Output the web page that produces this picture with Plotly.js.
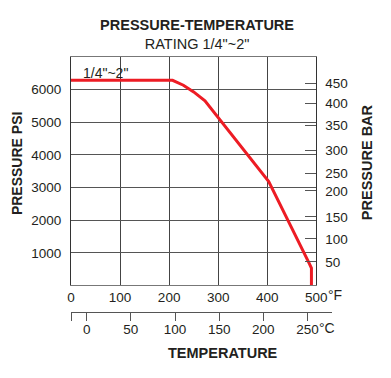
<!DOCTYPE html>
<html><head><meta charset="utf-8">
<script src="https://cdn.plot.ly/plotly-3.0.1.min.js"></script>
<style>html,body{margin:0;padding:0;background:#fff}#c{width:391px;height:378px}</style>
</head><body><div id="c"></div>
<script>
// Rating curve (temperature in °F, pressure in psi)
const tempF = [0, 207, 229, 250, 273, 403, 486, 490, 490];
const pressurePsi = [6285, 6285, 6135, 5930, 5655, 3180, 665, 530, 0];

// Axis ticks
const fTicks = [0, 100, 200, 300, 400, 500];
const fLabels = ["0", "100", "200", "300", "400", "500"];
const psiTicks = [1000, 2000, 3000, 4000, 5000, 6000];
const psiLabels = ["1000", "2000", "3000", "4000", "5000", "6000"];
const cTicks = [-17.78, 0, 50, 100, 150, 200, 250];
const cLabels = ["", "0", "50", "100", "150", "200", "250"];
// bar scale ticks, placed at the psi heights where they appear on the chart
const barTickPsi = [6197, 5576, 4898, 4149, 3436, 2895, 2100, 1428, 725];
const barLabels = ["450", "400", "350", "300", "250", "200", "150", "100", "50"];

const FONT = 'Arial, "Liberation Sans", sans-serif';
const TXT = '#231f20';

const traces = [
  {x: tempF, y: pressurePsi, xaxis: 'x', yaxis: 'y', mode: 'lines',
   line: {color: '#ed1c24', width: 3}, hoverinfo: 'skip', showlegend: false},
  {x: [0], y: [null], xaxis: 'x', yaxis: 'y2', mode: 'lines', hoverinfo: 'skip', showlegend: false},
  {x: [0], y: [null], xaxis: 'x2', yaxis: 'y3', mode: 'lines', hoverinfo: 'skip', showlegend: false}
];

const layout = {
  width: 391, height: 378,
  margin: {l: 71, r: 59.3, t: 56.7, b: 65.7, pad: 0},
  paper_bgcolor: '#fff', plot_bgcolor: 'rgba(0,0,0,0)',
  font: {family: FONT, size: 14, color: TXT},
  showlegend: false,
  title: {text: '<b>PRESSURE-TEMPERATURE</b><br>RATING 1/4"~2"', font: {family: FONT, size: 14.5, color: TXT},
          x: 0.504, xref: 'container', xanchor: 'center', y: 1 - 30/378, yref: 'container', yanchor: 'top'},
  xaxis: {domain: [0, 0.94], range: [0, 500], anchor: 'y', tickvals: fTicks, ticktext: fLabels,
          showgrid: true, gridcolor: '#444', gridwidth: 1, zeroline: false, ticks: '',
          showline: true, linecolor: '#777', linewidth: 1, mirror: true, ticklabelstandoff: -1,
          tickfont: {size: 13.5, color: TXT}, fixedrange: true},
  yaxis: {domain: [0.104, 1], range: [0, 7000], anchor: 'x', tickvals: psiTicks, ticktext: psiLabels,
          showgrid: true, gridcolor: '#555', gridwidth: 1, zeroline: false, ticks: '',
          showline: true, linecolor: '#333', linewidth: 1, mirror: true,
          ticklabelstandoff: 6, tickfont: {size: 13.5, color: TXT}, fixedrange: true},
  yaxis2: {overlaying: 'y', side: 'right', anchor: 'x', range: [0, 7000],
           tickvals: barTickPsi, ticktext: barLabels, ticks: 'inside', ticklen: 11, tickcolor: '#555', tickwidth: 1,
           showgrid: false, zeroline: false, showline: false, ticklabelstandoff: 8,
           tickfont: {size: 13.5, color: TXT}, fixedrange: true},
  yaxis3: {domain: [0, 0.104], range: [0, 1], anchor: 'x2', visible: false, fixedrange: true},
  xaxis2: {domain: [0, 1], range: [-17.78, 277.8], anchor: 'y3', tickvals: cTicks, ticktext: cLabels,
           ticks: 'outside', ticklen: 8, tickcolor: '#555', tickwidth: 1, ticklabelstandoff: -3,
           showline: true, linecolor: '#555', linewidth: 1, showgrid: false, zeroline: false,
           tickfont: {size: 13.5, color: TXT}, fixedrange: true},
  annotations: [
    {text: '1/4"~2"', xref: 'x', yref: 'y', x: 20, y: 6520, xanchor: 'left', yanchor: 'middle',
     showarrow: false, font: {size: 14, color: TXT}},
    {text: '°F', xref: 'x', yref: 'paper', x: 500, y: 0.0665, xanchor: 'left', yanchor: 'middle', xshift: 10,
     showarrow: false, font: {size: 14, color: TXT}},
    {text: '°C', xref: 'x2', yref: 'paper', x: 250, y: -0.064, xanchor: 'left', yanchor: 'middle', xshift: 10,
     showarrow: false, font: {size: 14, color: TXT}},
    {text: '<b>PRESSURE PSI</b>', xref: 'paper', yref: 'paper', x: -0.204, y: 0.583, textangle: -90,
     xanchor: 'center', yanchor: 'middle', showarrow: false, font: {size: 14, color: TXT}},
    {text: '<b>PRESSURE BAR</b>', xref: 'paper', yref: 'paper', x: 1.1316, y: 0.589, textangle: -90,
     xanchor: 'center', yanchor: 'middle', showarrow: false, font: {size: 14.5, color: TXT}},
    {text: '<b>TEMPERATURE</b>', xref: 'paper', yref: 'paper', x: 0.583, y: -0.159,
     xanchor: 'center', yanchor: 'middle', showarrow: false, font: {size: 14.5, color: TXT}}
  ]
};

Plotly.newPlot('c', traces, layout, {displayModeBar: false, staticPlot: true});
</script>
</body></html>
